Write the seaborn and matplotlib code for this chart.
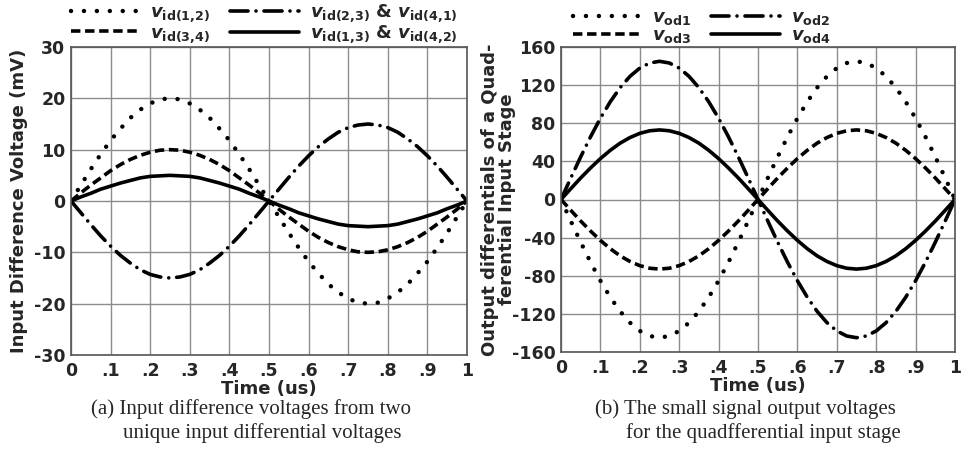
import numpy as np
import pandas as pd
import matplotlib
matplotlib.use("Agg")
import matplotlib.pyplot as plt
import seaborn as sns

# Time axis (us), sampled every 0.025 us
time_us = [i / 40 for i in range(41)]

# (a) input difference voltages (mV)
vid_12 = [0, 3.1, 6.2, 9.1, 11.8, 14.1, 16.2, 17.8, 19.0, 19.8, 20.0, 19.8, 19.0, 17.8, 16.2, 14.1, 11.8, 9.1, 6.2, 3.1, 0,
          -3.1, -6.2, -9.1, -11.8, -14.1, -16.2, -17.8, -19.0, -19.8, -20.0, -19.8, -19.0, -17.8, -16.2, -14.1, -11.8, -9.1, -6.2, -3.1, 0]
vid_23 = [0, -2.3, -4.6, -6.8, -8.8, -10.6, -12.1, -13.4, -14.3, -14.8, -15.0, -14.8, -14.3, -13.4, -12.1, -10.6, -8.8, -6.8, -4.6, -2.3, 0,
          2.3, 4.6, 6.8, 8.8, 10.6, 12.1, 13.4, 14.3, 14.8, 15.0, 14.8, 14.3, 13.4, 12.1, 10.6, 8.8, 6.8, 4.6, 2.3, 0]
vid_34 = [0, 1.6, 3.1, 4.5, 5.9, 7.1, 8.1, 8.9, 9.5, 9.9, 10.0, 9.9, 9.5, 8.9, 8.1, 7.1, 5.9, 4.5, 3.1, 1.6, 0,
          -1.6, -3.1, -4.5, -5.9, -7.1, -8.1, -8.9, -9.5, -9.9, -10.0, -9.9, -9.5, -8.9, -8.1, -7.1, -5.9, -4.5, -3.1, -1.6, 0]
vid_13 = [0, 0.8, 1.5, 2.3, 2.9, 3.5, 4.0, 4.5, 4.8, 4.9, 5.0, 4.9, 4.8, 4.5, 4.0, 3.5, 2.9, 2.3, 1.5, 0.8, 0,
          -0.8, -1.5, -2.3, -2.9, -3.5, -4.0, -4.5, -4.8, -4.9, -5.0, -4.9, -4.8, -4.5, -4.0, -3.5, -2.9, -2.3, -1.5, -0.8, 0]

# (b) small signal output voltages
vod1 = [0, -22.7, -44.8, -65.8, -85.2, -102.5, -117.3, -129.2, -137.9, -143.2, -145.0, -143.2, -137.9, -129.2, -117.3, -102.5, -85.2, -65.8, -44.8, -22.7, 0,
        22.7, 44.8, 65.8, 85.2, 102.5, 117.3, 129.2, 137.9, 143.2, 145.0, 143.2, 137.9, 129.2, 117.3, 102.5, 85.2, 65.8, 44.8, 22.7, 0]
vod2 = [0, 22.7, 44.8, 65.8, 85.2, 102.5, 117.3, 129.2, 137.9, 143.2, 145.0, 143.2, 137.9, 129.2, 117.3, 102.5, 85.2, 65.8, 44.8, 22.7, 0,
        -22.7, -44.8, -65.8, -85.2, -102.5, -117.3, -129.2, -137.9, -143.2, -145.0, -143.2, -137.9, -129.2, -117.3, -102.5, -85.2, -65.8, -44.8, -22.7, 0]
vod3 = [0, -11.4, -22.6, -33.1, -42.9, -51.6, -59.1, -65.0, -69.4, -72.1, -73.0, -72.1, -69.4, -65.0, -59.1, -51.6, -42.9, -33.1, -22.6, -11.4, 0,
        11.4, 22.6, 33.1, 42.9, 51.6, 59.1, 65.0, 69.4, 72.1, 73.0, 72.1, 69.4, 65.0, 59.1, 51.6, 42.9, 33.1, 22.6, 11.4, 0]
vod4 = [0, 11.4, 22.6, 33.1, 42.9, 51.6, 59.1, 65.0, 69.4, 72.1, 73.0, 72.1, 69.4, 65.0, 59.1, 51.6, 42.9, 33.1, 22.6, 11.4, 0,
        -11.4, -22.6, -33.1, -42.9, -51.6, -59.1, -65.0, -69.4, -72.1, -73.0, -72.1, -69.4, -65.0, -59.1, -51.6, -42.9, -33.1, -22.6, -11.4, 0]

x_ticks = [0, 0.1, 0.2, 0.3, 0.4, 0.5, 0.6, 0.7, 0.8, 0.9, 1.0]
x_tick_labels = ["0", ".1", ".2", ".3", ".4", ".5", ".6", ".7", ".8", ".9", "1"]
ya_ticks = [-30, -20, -10, 0, 10, 20, 30]
yb_ticks = [-160, -120, -80, -40, 0, 40, 80, 120, 160]

sns.set_style("white")
plt.rcParams["font.family"] = ["DejaVu Sans"]
plt.rcParams["font.weight"] = "bold"
plt.rcParams["axes.unicode_minus"] = False
plt.rcParams["mathtext.fontset"] = "custom"
plt.rcParams["mathtext.rm"] = "DejaVu Sans:bold"
plt.rcParams["mathtext.it"] = "DejaVu Sans:italic:bold"
plt.rcParams["mathtext.bf"] = "DejaVu Sans:bold"

DOT = dict(linestyle=(0, (0.01, 2.9)), linewidth=3.2, dash_capstyle="round")
DASHDOT = dict(linestyle=(0, (5.0, 2.2, 0.01, 2.2)), linewidth=2.6, dash_capstyle="round")
DASH = dict(linestyle=(0, (2.6, 1.3)), linewidth=2.6, dash_capstyle="butt")
SOLID = dict(linestyle="-", linewidth=2.6)

fig = plt.figure(figsize=(9.62, 4.74), dpi=100)
ax_a = fig.add_axes([71 / 962, 1 - 355 / 474, 396 / 962, 308 / 474])
ax_b = fig.add_axes([561 / 962, 1 - 352 / 474, 394 / 962, 305 / 474])


def draw(ax, series, ylim, yticks):
    for y, style, label in series:
        df = pd.DataFrame({"t": time_us, "v": y})
        sns.lineplot(data=df, x="t", y="v", ax=ax, color="black", label=label, **style)
    ax.set_xlim(0, 1)
    ax.set_ylim(*ylim)
    ax.set_xticks(x_ticks)
    ax.set_xticklabels(x_tick_labels)
    ax.set_yticks(yticks)
    ax.grid(True, color="#8c8c8c", linewidth=1.0)
    ax.tick_params(axis="x", length=0, labelsize=12.5, pad=5)
    ax.tick_params(axis="y", length=0, labelsize=12.5, pad=4)
    for lab in ax.get_xticklabels() + ax.get_yticklabels():
        lab.set_fontweight("bold")
    for sp in ax.spines.values():
        sp.set_color("#555555")
        sp.set_linewidth(1.2)
    ax.set_xlabel("Time (us)", fontsize=13, fontweight="bold", labelpad=0)


series_a = [
    (vid_12, DOT, r"$v_{\mathrm{id(1{,}2)}}$"),
    (vid_34, DASH, r"$v_{\mathrm{id(3{,}4)}}$"),
    (vid_23, DASHDOT, r"$v_{\mathrm{id(2{,}3)}}$ & $v_{\mathrm{id(4{,}1)}}$"),
    (vid_13, SOLID, r"$v_{\mathrm{id(1{,}3)}}$ & $v_{\mathrm{id(4{,}2)}}$"),
]
series_b = [
    (vod1, DOT, r"$v_{\mathrm{od1}}$"),
    (vod3, DASH, r"$v_{\mathrm{od3}}$"),
    (vod2, DASHDOT, r"$v_{\mathrm{od2}}$"),
    (vod4, SOLID, r"$v_{\mathrm{od4}}$"),
]

draw(ax_a, series_a, (-30, 30), ya_ticks)
draw(ax_b, series_b, (-160, 160), yb_ticks)

ax_a.set_ylabel("Input Difference Voltage (mV)", fontsize=13, fontweight="bold", labelpad=4)
ax_b.set_ylabel("Output differentials of a Quad-\nferential Input Stage", fontsize=13,
                fontweight="bold", labelpad=-3, linespacing=0.95)

for ax, anchor in ((ax_a, (0.0, 1.005)), (ax_b, (0.03, 1.005))):
    ax.legend(ncol=2, loc="lower left", bbox_to_anchor=anchor, frameon=False,
              fontsize=13, handlelength=3.8, handletextpad=0.6, columnspacing=1.1,
              labelspacing=-0.02, borderaxespad=0.0, borderpad=0.0)

cap = dict(fontsize=15, family="Liberation Serif", fontweight="normal", ha="center", va="center")
fig.text(251 / 962, 1 - 409 / 474, "(a) Input difference voltages from two", **cap)
fig.text(262 / 962, 1 - 433 / 474, "unique input differential voltages", **cap)
fig.text(745 / 962, 1 - 409 / 474, "(b) The small signal output voltages", **cap)
fig.text(763 / 962, 1 - 433 / 474, "for the quadfferential input stage", **cap)

fig.savefig("out.png", dpi=100)
